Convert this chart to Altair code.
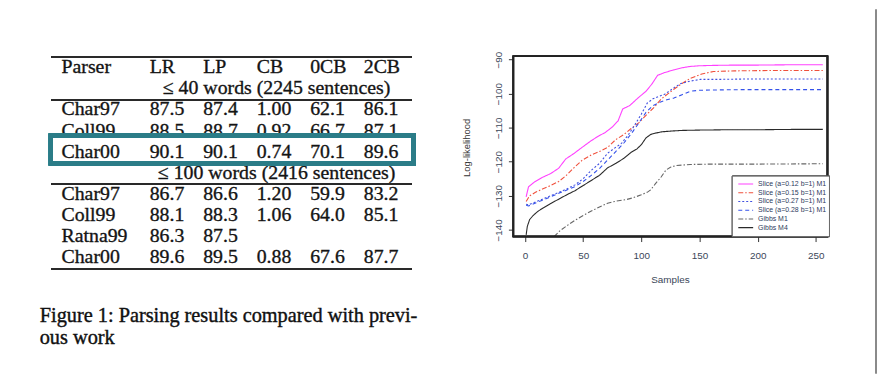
import altair as alt
import pandas as pd

# ---------------- table (left) ----------------
table_cols = ["LR", "LP", "CB", "0CB", "2CB"]
header_row = ["Parser", "LR", "LP", "CB", "0CB", "2CB"]
parsers = ["Char97", "Coll99", "Char00", "Char97", "Coll99", "Ratna99", "Char00"]
parser_rows = [2, 3, 4, 6, 7, 8, 9]
lr = ["87.5", "88.5", "90.1", "86.7", "88.1", "86.3", "89.6"]
lp = ["87.4", "88.7", "90.1", "86.6", "88.3", "87.5", "89.5"]
cb = ["1.00", "0.92", "0.74", "1.20", "1.06", "", "0.88"]
zcb = ["62.1", "66.7", "70.1", "59.9", "64.0", "", "67.6"]
tcb = ["86.1", "87.1", "89.6", "83.2", "85.1", "", "87.7"]
section_titles = ["\u2264 40 words (2245 sentences)", "\u2264 100 words (2416 sentences)"]
section_rows = [1, 5]
caption_lines = ["Figure 1: Parsing results compared with previ-", "ous work"]

# ---------------- line chart (right) ----------------
series_names = [
    "Slice (a=0.12 b=1) M1",
    "Slice (a=0.15 b=1) M1",
    "Slice (a=0.27 b=1) M1",
    "Slice (a=0.28 b=1) M1",
    "Gibbs M1",
    "Gibbs M4",
]
series_colors = ["#ff40ff", "#f0503c", "#4050e0", "#3552ea", "#666666", "#2a2a2a"]
series_dashes = [[1, 0], [5, 2, 1.5, 2], [2, 2], [4, 3], [5, 2, 1.5, 2], [1, 0]]

x_s012 = [1, 3, 8, 15, 22, 29, 35, 42, 49, 57, 63, 69, 75, 80, 84, 90, 97, 104, 109, 114, 120, 128, 135, 142, 150, 160, 180, 200, 230, 256]
y_s012 = [-130.3, -127.4, -126.0, -124.6, -123.5, -121.9, -119.2, -117.6, -115.8, -113.8, -112.5, -111.4, -109.8, -108.0, -104.5, -103.5, -101.3, -99.3, -97.2, -94.6, -93.8, -93.0, -92.4, -92.0, -91.8, -91.7, -91.6, -91.6, -91.5, -91.5]

x_s015 = [1, 4, 9, 15, 22, 29, 35, 42, 49, 57, 64, 71, 78, 85, 91, 98, 105, 111, 117, 123, 128, 135, 142, 152, 162, 180, 210, 256]
y_s015 = [-131.7, -130.0, -129.0, -128.0, -127.0, -125.8, -124.2, -121.8, -119.6, -118.0, -117.0, -115.8, -113.5, -112.0, -110.3, -108.5, -106.0, -104.0, -101.6, -100.0, -98.7, -97.0, -95.5, -94.2, -93.5, -93.3, -93.2, -93.2]

x_s027 = [1, 3, 8, 15, 22, 29, 36, 43, 50, 57, 64, 71, 77, 83, 89, 94, 100, 105, 110, 115, 120, 127, 134, 142, 151, 165, 190, 220, 256]
y_s027 = [-132.5, -132.7, -132.0, -131.0, -130.0, -129.0, -128.0, -126.8, -125.0, -122.5, -120.5, -117.5, -116.0, -114.6, -112.0, -109.4, -106.0, -102.8, -101.5, -100.8, -100.2, -98.5, -97.0, -96.3, -95.8, -95.8, -95.7, -95.7, -95.7]

x_s028 = [1, 3, 8, 15, 22, 29, 36, 43, 50, 57, 64, 71, 78, 85, 92, 98, 104, 110, 116, 122, 128, 135, 142, 150, 165, 190, 220, 256]
y_s028 = [-132.8, -133.0, -132.3, -131.3, -130.3, -129.3, -128.3, -127.3, -125.8, -124.0, -122.0, -119.5, -117.0, -114.5, -111.5, -108.5, -105.5, -103.5, -102.5, -101.8, -101.3, -100.3, -99.3, -99.0, -98.9, -98.8, -98.8, -98.8]

x_gm1 = [25, 30, 36, 43, 50, 57, 64, 71, 78, 86, 93, 100, 105, 108, 112, 117, 121, 125, 130, 142, 160, 200, 256]
y_gm1 = [-142.0, -140.3, -138.8, -137.2, -135.8, -134.5, -133.3, -132.2, -131.6, -131.2, -130.6, -129.7, -129.0, -128.3, -126.5, -124.5, -122.5, -121.6, -121.1, -120.8, -120.7, -120.7, -120.6]

x_gm4 = [1, 2, 4, 7, 11, 16, 22, 29, 36, 43, 50, 57, 64, 71, 78, 85, 91, 96, 100, 104, 108, 112, 118, 125, 135, 150, 175, 200, 230, 256]
y_gm4 = [-141.5, -139.0, -137.0, -135.8, -134.6, -133.5, -132.3, -131.0, -129.7, -128.5, -127.0, -125.5, -124.0, -121.8, -120.5, -119.0, -117.3, -116.3, -115.0, -113.0, -112.0, -111.6, -111.2, -111.0, -110.8, -110.7, -110.6, -110.6, -110.5, -110.5]

x_ticks = [0, 50, 100, 150, 200, 250]
y_ticks = [-140, -130, -120, -110, -100, -90]

# ---------------- build tables ----------------
cells = []
for c in table_cols:
    cells.append({"row": 0, "col": c, "text": c})
cols_vals = [lr, lp, cb, zcb, tcb]
for i, r in enumerate(parser_rows):
    for c, vals in zip(table_cols, cols_vals):
        if vals[i]:
            cells.append({"row": r, "col": c, "text": vals[i]})
cells_df = pd.DataFrame(cells)
names_df = pd.DataFrame({"row": [0] + parser_rows, "text": [header_row[0]] + parsers})
sect_df = pd.DataFrame({"row": section_rows, "text": section_titles})
cap_df = pd.DataFrame({"line": [0, 1], "text": caption_lines})

xs = [x_s012, x_s015, x_s027, x_s028, x_gm1, x_gm4]
ys = [y_s012, y_s015, y_s027, y_s028, y_gm1, y_gm4]
recs = []
for name, xx, yy in zip(series_names, xs, ys):
    for a, b in zip(xx, yy):
        recs.append({"series": name, "x": a, "y": b})
lines_df = pd.DataFrame(recs)
leg_df = pd.DataFrame({"series": series_names})

SERIF = "Liberation Serif"
SANS = "Liberation Sans"
TXT = "#141414"
TXT_STYLE = dict(font=SERIF, fontSize=20, color=TXT, stroke=TXT, strokeWidth=0.35)

row_scale = alt.Scale(domain=[0, 9], range=[58, 250], zero=False, nice=False)
col_scale = alt.Scale(type="point", domain=table_cols, range=[143, 359], padding=0)

cells_layer = alt.Chart(cells_df).mark_text(
    align="left", baseline="middle", **TXT_STYLE
).encode(
    x=alt.X("col:N", scale=col_scale, axis=None),
    y=alt.Y("row:Q", scale=row_scale, axis=None),
    text="text:N",
)
names_layer = alt.Chart(names_df).mark_text(
    align="left", baseline="middle", **TXT_STYLE
).encode(
    x=alt.value(54),
    y=alt.Y("row:Q", scale=row_scale, axis=None),
    text="text:N",
)
sect_layer = alt.Chart(sect_df).mark_text(
    align="center", baseline="middle", **TXT_STYLE
).encode(
    x=alt.value(271),
    y=alt.Y("row:Q", scale=row_scale, axis=None),
    text="text:N",
)
cap_layer = alt.Chart(cap_df).mark_text(
    align="left", baseline="middle", font=SERIF, fontSize=20.5, color="#111111",
    stroke="#111111", strokeWidth=0.4,
).encode(
    x=alt.value(32),
    y=alt.Y("line:Q", scale=alt.Scale(domain=[0, 1], range=[309, 331], zero=False, nice=False), axis=None),
    text="text:N",
)

rule_layers = []
for yy in [48, 91, 176, 262]:
    rule_layers.append(
        alt.Chart(cells_df).mark_rule(color="#2a2a2a", strokeWidth=1.6).encode(
            x=alt.value(44), x2=alt.value(407), y=alt.value(yy)
        )
    )

hl_box = alt.Chart(cells_df).mark_rect(
    fillOpacity=0, stroke="#2b7c87", strokeWidth=4
).encode(x=alt.value(43.3), x2=alt.value(409.5), y=alt.value(127), y2=alt.value(155.3))

# ---- line chart ----
color_scale = alt.Scale(domain=series_names, range=series_colors)
dash_scale = alt.Scale(domain=series_names, range=series_dashes)

lines = alt.Chart(lines_df).mark_line(strokeWidth=1.1).encode(
    x=alt.X(
        "x:Q",
        scale=alt.Scale(domain=[-10, 260], range=[510, 827], zero=False, nice=False),
        axis=alt.Axis(
            orient="bottom", offset=-138, values=x_ticks, domain=False, grid=False,
            tickSize=5, tickColor="#333333", tickWidth=1,
            labelFont=SANS, labelFontSize=10, labelColor="#3a4658", labelPadding=9,
            labelFlush=False, labelOverlap=False,
            title="Samples", titleFont=SANS, titleFontSize=10, titleFontWeight="normal",
            titleColor="#3a4658", titleX=668, titleY=43, titleBaseline="middle",
        ),
    ),
    y=alt.Y(
        "y:Q",
        scale=alt.Scale(domain=[-142, -89], range=[229, 47], zero=False, nice=False),
        axis=alt.Axis(
            orient="left", offset=-510, values=y_ticks, domain=False, grid=False,
            tickSize=5, tickColor="#333333", tickWidth=1,
            labelFont=SANS, labelFontSize=10, labelColor="#3a4658", labelPadding=10,
            labelAngle=270, labelAlign="center", labelBaseline="middle",
            labelFlush=False, labelOverlap=False, format="d",
            title="Log-likelihood", titleFont=SANS, titleFontSize=9.5, titleFontWeight="normal",
            titleColor="#333333", titleX=-47, titleY=139, titleAngle=270,
            titleAlign="center", titleBaseline="middle",
        ),
    ),
    color=alt.Color("series:N", scale=color_scale, legend=None),
    strokeDash=alt.StrokeDash("series:N", scale=dash_scale, legend=None),
)
plot_box = alt.Chart(leg_df).mark_rect(
    fillOpacity=0, stroke="#222222", strokeWidth=1.5
).encode(x=alt.value(510), x2=alt.value(827), y=alt.value(47), y2=alt.value(229))

leg_y = alt.Y("series:N", scale=alt.Scale(type="point", domain=series_names, range=[176, 220], padding=0), axis=None)
leg_box = alt.Chart(leg_df).mark_rect(
    fill="white", stroke="#555555", strokeWidth=0.8
).encode(x=alt.value(731), x2=alt.value(829), y=alt.value(168), y2=alt.value(229))
leg_lines = alt.Chart(leg_df).mark_rule(strokeWidth=1.1).encode(
    x=alt.value(737), x2=alt.value(752), y=leg_y,
    color=alt.Color("series:N", scale=color_scale, legend=None),
    strokeDash=alt.StrokeDash("series:N", scale=dash_scale, legend=None),
)
leg_text = alt.Chart(leg_df).mark_text(
    align="left", baseline="middle", font=SANS, fontSize=7, color="#2d3a5c"
).encode(x=alt.value(757), y=leg_y, text="series:N")

plot_part = alt.layer(lines, plot_box)
legend_part = alt.layer(leg_box, leg_lines, leg_text)

frame_right = alt.Chart(leg_df).mark_rule(color="#8a8a8a", strokeWidth=1.5).encode(
    x=alt.value(876), y=alt.value(0), y2=alt.value(367)
)

chart = alt.layer(
    cells_layer, names_layer, sect_layer, cap_layer, *rule_layers, hl_box,
    plot_part, legend_part, frame_right,
).resolve_scale(
    x="independent", y="independent"
).properties(
    width=879, height=367, autosize=alt.AutoSizeParams(type="none"), padding=0,
    background="white",
).configure_view(stroke=None)

chart.save("out.html", embed_options={"renderer": "svg", "actions": False})
